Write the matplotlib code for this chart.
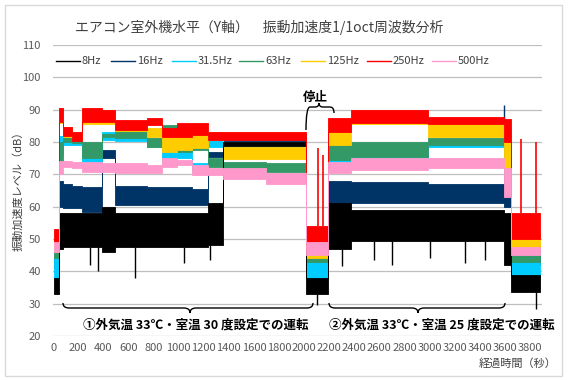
import numpy as np
import matplotlib
matplotlib.use("Agg")
import matplotlib.pyplot as plt
from matplotlib.path import Path
from matplotlib.patches import PathPatch, Rectangle
from matplotlib.lines import Line2D
import matplotlib.transforms as mtransforms

plt.rcParams['font.family'] = ['Noto Sans CJK JP', 'DejaVu Sans']

# segment edges (seconds) - each series is a band (low/high) per segment
edges = [10, 45, 81, 150, 232, 390, 495, 750, 870, 990, 1110, 1230, 1350,
         1700, 2015, 2190, 2375, 2990, 3590, 3650, 3880]

labels = ["8Hz", "16Hz", "31.5Hz", "63Hz", "125Hz", "250Hz", "500Hz"]
colors = ["#000000", "#003366", "#00ccff", "#339966", "#ffcc00", "#ff0000", "#ff99cc"]

lo_8 = [33, 47, 47.5, 47.5, 47.5, 46, 47.5, 47.5, 47.5, 47.5, 47.5, 48, 78.8, 78.8, 33, 47, 49.5, 49.5, 42, 33.5]
hi_8 = [38, 58, 58, 58, 58, 60, 58, 58, 58, 58, 58, 61, 80, 80, 38, 61, 59, 59, 58, 39]
lo_16 = [41, 60, 59.5, 59.5, 58.5, 75.2, 60.5, 60.5, 60.5, 60.5, 60.5, 75.5, 80.3, 80.3, 41, 61, 61, 61, 60, 42]
hi_16 = [45, 68, 67, 66.5, 66, 77.5, 66.5, 66, 66, 66, 65.5, 77, 82.5, 82.5, 46, 68, 67.5, 67, 73, 48]
lo_31 = [38, 76, 79, 79, 73, 80.6, 80.2, 78.5, 73.5, 75, 70.7, 78.5, 76, 76, 38, 73, 73.5, 78.5, 70, 38]
hi_31 = [45, 82, 80.5, 80.5, 76.6, 83, 82.9, 81, 78, 78, 73.5, 80.6, 78.5, 78.5, 43, 77, 76.6, 80.3, 78, 43]
lo_63 = [44, 74, 80, 79.8, 75.2, 81.5, 81.2, 78.5, 83.7, 77, 77.5, 72.3, 71, 70.7, 43, 74.5, 75.4, 79, 68, 43]
hi_63 = [46, 80, 81.8, 81.5, 80.1, 82.5, 83.7, 81.2, 85.3, 79, 79, 75, 73.8, 73.5, 46, 79.5, 80, 81.2, 77, 46]
lo_125 = [46, 86, 81.5, 80.5, 85.5, 85.5, 83.5, 81.5, 76.9, 77.5, 78, 80.5, 74.8, 74.8, 44, 79, 85.5, 81.5, 72, 47]
hi_125 = [50, 90.5, 84.5, 83, 90, 90, 86, 84.3, 81.5, 81.5, 82.2, 83, 78.5, 78.5, 50, 85.5, 89.5, 86, 84, 52]
lo_250 = [49, 86.2, 82, 80.3, 86.3, 86.2, 83.7, 85.2, 81.5, 81.5, 82.2, 80.5, 80.5, 80.5, 47, 83, 86, 85.5, 80, 50]
hi_250 = [53, 90.5, 84.7, 83, 90.5, 90, 86.8, 87.5, 84.3, 86, 86, 83, 83, 83, 54, 87.5, 90, 87.7, 87, 58]
lo_500 = [46, 70, 72.3, 72, 70.8, 70.7, 70.4, 70.4, 72.3, 72.9, 69.8, 69.8, 68.5, 67, 45, 70.4, 71.3, 72, 63, 45]
hi_500 = [49, 74, 74, 73.8, 73.9, 73.5, 73.5, 72.9, 75, 74.4, 72.9, 72, 72, 70.5, 49, 73.8, 75, 75, 72, 47.5]

# isolated spikes
dip_8_t = [295, 355, 650, 1045, 1250, 2100, 2300, 2560, 2700, 3000, 3280, 3440, 3850]
dip_8_v = [42, 40, 38, 42.5, 43.5, 29.5, 41.5, 43.5, 42, 44, 42.7, 43.5, 28.5]
spike_250_t = [2110, 2150, 3725, 3850]
spike_250_v = [78, 76, 81, 80]
spike_16_t = [3590]
spike_16_v = [91.5]

W, H = 571, 380
fig = plt.figure(figsize=(W / 100, H / 100), dpi=100)
ax = fig.add_axes([53.2 / W, 1 - 336 / H, (542 - 53.2) / W, (336 - 45) / H])

lows = [lo_8, lo_16, lo_31, lo_63, lo_125, lo_250, lo_500]
highs = [hi_8, hi_16, hi_31, hi_63, hi_125, hi_250, hi_500]
# 8Hz band drawn above 125Hz so its 79-80 dB plateau stays visible
zord = [2.45, 2.1, 2.2, 2.3, 2.4, 2.5, 2.6]
for i, (lo, hi) in enumerate(zip(lows, highs)):
    lo = lo + [lo[-1]]
    hi = hi + [hi[-1]]
    ax.fill_between(edges, lo, hi, step='post', color=colors[i], lw=0.6,
                    edgecolor=colors[i], zorder=zord[i])

# spikes
seg = np.searchsorted(edges, dip_8_t, side='right') - 1
ax.vlines(dip_8_t, [lo_8[s] for s in seg], dip_8_v, color=colors[0], lw=1.0, zorder=2)
seg = np.searchsorted(edges, spike_250_t, side='right') - 1
ax.vlines(spike_250_t, [hi_250[s] for s in seg], spike_250_v, color=colors[5], lw=1.2, zorder=2.5)
ax.vlines(spike_16_t, 80, spike_16_v, color=colors[1], lw=1.0, zorder=2.1)

ax.set_xlim(0, 3896)
ax.set_ylim(20, 110)
ax.set_yticks(np.arange(20, 111, 10))
ax.set_xticks(np.arange(0, 3801, 200))
ax.yaxis.grid(True, color='#bfbfbf', lw=0.9, zorder=0)
ax.set_axisbelow(True)
for s in ax.spines.values():
    s.set_visible(False)
ax.tick_params(axis='both', length=0, labelsize=8, colors='#595959')
ax.tick_params(axis='y', pad=9)
ax.tick_params(axis='x', pad=5)

# pixel-space transform for annotations
px = mtransforms.Affine2D().scale(1 / W, -1 / H).translate(0, 1) + fig.transFigure


def brace(x0, x1, xm, y0, y1, ybase, ytip, r=6):
    verts = [(x0, y0), (x0, ybase), (x0 + r, ybase),
             (xm - r, ybase),
             (xm, ybase), (xm, ytip),
             (xm, ybase), (xm + r, ybase),
             (x1 - r, ybase),
             (x1, ybase), (x1, y1)]
    codes = [Path.MOVETO, Path.CURVE3, Path.CURVE3, Path.LINETO,
             Path.CURVE3, Path.CURVE3, Path.CURVE3, Path.CURVE3,
             Path.LINETO, Path.CURVE3, Path.CURVE3]
    fig.add_artist(PathPatch(Path(verts, codes), fill=False, lw=1.0,
                             edgecolor='black', transform=px))


brace(63, 313, 190, 303, 303, 308, 313)
brace(329, 505, 418, 303, 303, 308, 313)
brace(306, 334, 319, 130, 113, 107, 103, r=4)

fig.text(196 / W, 1 - 325 / H, "①外気温 33℃・室温 30 度設定での運転", ha='center',
         va='center', fontsize=9, fontweight='bold')
fig.text(442 / W, 1 - 325 / H, "②外気温 33℃・室温 25 度設定での運転", ha='center',
         va='center', fontsize=9, fontweight='bold')
fig.text(315 / W, 1 - 97 / H, "停止", ha='center', va='center', fontsize=9,
         fontweight='bold')

# title and axis labels
fig.text(259 / W, 1 - 27 / H, "エアコン室外機水平（Y軸）　振動加速度1/1oct周波数分析",
         ha='center', va='center', fontsize=10, color='#404040')
fig.text(18 / W, 1 - 188 / H, "振動加速度レベル（dB）", rotation=90, ha='center',
         va='center', fontsize=8, color='#404040')
fig.text(518 / W, 1 - 364 / H, "経過時間（秒）", ha='center', va='center',
         fontsize=8, color='#404040')

# legend drawn by hand
leg_x = [56, 111, 172, 239, 301, 367, 432]
for x, lab, c in zip(leg_x, labels, colors):
    fig.add_artist(Line2D([x, x + 24], [61, 61], color=c, lw=1.0, transform=px))
    fig.text((x + 26) / W, 1 - 61 / H, lab, ha='left', va='center', fontsize=8,
             color='#404040')

fig.add_artist(Rectangle((5, 376), 557, -371, fill=False, edgecolor='#d9d9d9',
                         lw=1.0, transform=px))

fig.savefig("out.png", dpi=100)
